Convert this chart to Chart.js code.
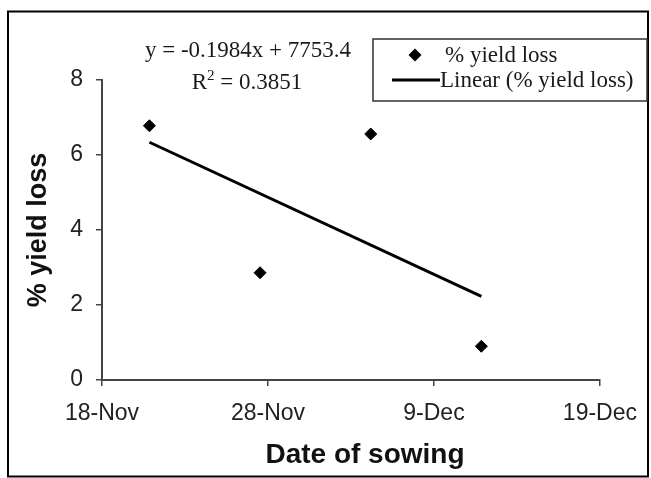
<!DOCTYPE html>
<html>
<head>
<meta charset="utf-8">
<script src="https://cdn.jsdelivr.net/npm/chart.js@4.4.0/dist/chart.umd.min.js"></script>
<style>
  body { margin: 0; background: #fff; }
  #wrap { width: 651px; height: 478px; }
</style>
</head>
<body>
<div id="wrap"><canvas id="yieldchart" width="651" height="478"></canvas></div>
<script>
// days counted from 18-Nov
var xTickDays = [0, 10.5, 21, 31.5];
var xTickLabels = ['18-Nov', '28-Nov', '9-Dec', '19-Dec'];
var sowingDays = [3, 10, 17, 24];
var yieldLoss = [6.78, 2.86, 6.56, 0.9];
// trendline end points
var trendDays = [3, 24];
var trendLoss = [6.34, 2.23];
var equationText = 'y = -0.1984x + 7753.4';
var r2Value = '= 0.3851';
var xTitle = 'Date of sowing';

var scatterPoints = sowingDays.map((d, i) => ({ x: d, y: yieldLoss[i] }));
var trendPoints = trendDays.map((d, i) => ({ x: d, y: trendLoss[i] }));

// outer frame, x title, equation text and the boxed legend
const extrasPlugin = {
  id: 'extras',
  afterDraw(chart) {
    const c = chart.ctx;
    c.save();
    c.strokeStyle = '#000';
    c.lineWidth = 2;
    c.strokeRect(8, 11.5, 640, 465);

    // x axis title, sits a little right of the plot centre in the original
    c.fillStyle = '#111';
    c.font = 'bold 28px "Liberation Sans"';
    c.textAlign = 'center';
    c.textBaseline = 'middle';
    c.fillText(xTitle, 365, 455);

    c.fillStyle = '#1a1a1a';
    c.font = '23px "Liberation Serif"';
    c.fillText(equationText, 248, 51);
    // R² line with superscript
    const wR = c.measureText('R').width;
    c.font = '15px "Liberation Serif"';
    const w2 = c.measureText('2').width;
    c.font = '23px "Liberation Serif"';
    const wRest = c.measureText(' ' + r2Value).width;
    let sx = 247 - (wR + w2 + wRest) / 2;
    c.textAlign = 'left';
    c.fillText('R', sx, 83);
    c.font = '15px "Liberation Serif"';
    c.fillText('2', sx + wR, 76);
    c.font = '23px "Liberation Serif"';
    c.fillText(' ' + r2Value, sx + wR + w2, 83);

    // legend box
    c.fillStyle = '#fff';
    c.fillRect(373, 39, 274, 62);
    c.strokeStyle = '#333';
    c.lineWidth = 1.5;
    c.strokeRect(373, 39, 274, 62);
    const ds = chart.data.datasets;
    c.fillStyle = '#000';
    c.beginPath();
    c.moveTo(415, 48.5); c.lineTo(421.5, 55); c.lineTo(415, 61.5); c.lineTo(408.5, 55);
    c.closePath();
    c.fill();
    c.strokeStyle = '#000';
    c.lineWidth = 3;
    c.beginPath();
    c.moveTo(392, 80); c.lineTo(440, 80);
    c.stroke();
    c.fillStyle = '#1a1a1a';
    c.font = '23px "Liberation Serif"';
    c.textAlign = 'left';
    c.fillText(ds[0].label, 445, 56);
    c.fillText(ds[1].label, 440, 81);
    c.restore();
  }
};

const ctx = document.getElementById('yieldchart');

new Chart(ctx, {
  type: 'scatter',
  data: {
    datasets: [{
      label: '% yield loss',
      data: scatterPoints,
      pointStyle: 'rectRot',
      pointRadius: 6,
      backgroundColor: '#000',
      borderColor: '#000',
      borderWidth: 1
    }, {
      type: 'line',
      label: 'Linear (% yield loss)',
      data: trendPoints,
      borderColor: '#000',
      borderWidth: 3,
      pointRadius: 0,
      fill: false
    }]
  },
  options: {
    responsive: false,
    animation: false,
    devicePixelRatio: 1,
    layout: { padding: { left: 0, top: 80, right: 51, bottom: 0 } },
    plugins: {
      legend: { display: false },
      tooltip: { enabled: false }
    },
    scales: {
      x: {
        type: 'linear',
        min: 0,
        max: 31.5,
        afterBuildTicks: (scale) => { scale.ticks = xTickDays.map(v => ({ value: v })); },
        afterFit: (scale) => { scale.height = 98; },
        ticks: {
          callback: (value, index) => xTickLabels[index],
          font: { family: '"Liberation Sans"', size: 23 },
          color: '#222',
          padding: 14,
          maxRotation: 0
        },
        grid: { drawOnChartArea: false, tickLength: 6, color: '#444', lineWidth: 1.5 },
        border: { color: '#444', width: 2 },
        title: { display: false }
      },
      y: {
        min: 0,
        max: 8,
        ticks: {
          stepSize: 2,
          font: { family: '"Liberation Sans"', size: 23 },
          color: '#222',
          padding: 13
        },
        afterFit: (scale) => { scale.width = 102; },
        grid: { drawOnChartArea: false, tickLength: 6, color: '#444', lineWidth: 1.5 },
        border: { color: '#444', width: 2 },
        title: {
          display: true,
          text: '% yield loss',
          font: { family: '"Liberation Sans"', size: 27, weight: 'bold' },
          color: '#111',
          padding: { top: 22, bottom: 22 }
        }
      }
    }
  },
  plugins: [extrasPlugin]
});
</script>
</body>
</html>
